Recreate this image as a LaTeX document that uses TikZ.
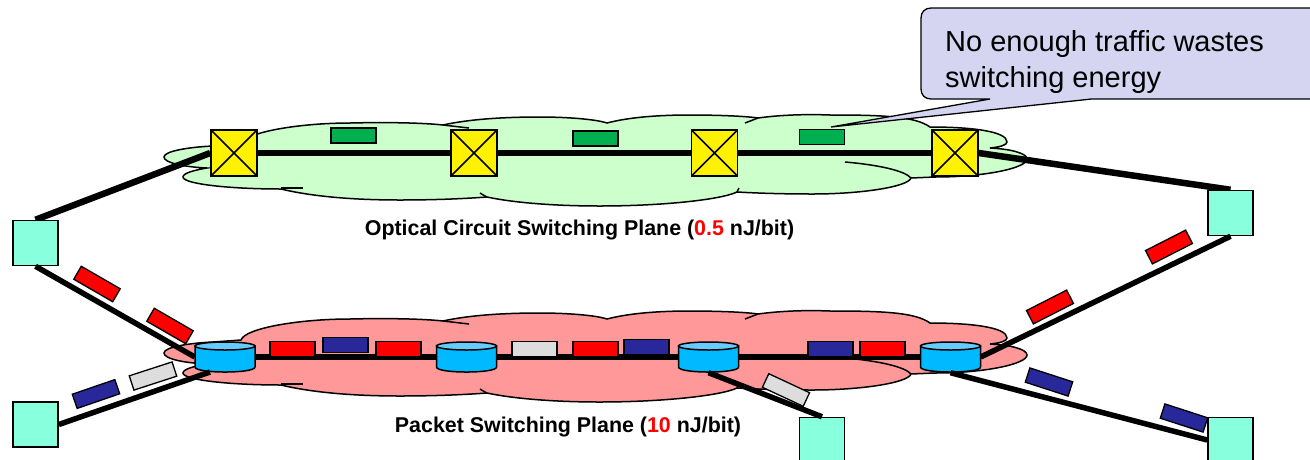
\documentclass[tikz,border=0pt]{standalone}
\usepackage{fontspec}
\setmainfont{Liberation Sans}
\usepackage{xcolor}
\usepackage{tikz}
\usetikzlibrary{backgrounds}
\definecolor{edgeteal}{HTML}{88FFDD}
\definecolor{cloudgreen}{HTML}{CCFFCC}
\definecolor{cloudpink}{HTML}{FF9999}
\definecolor{pktgreen}{HTML}{00B050}
\definecolor{pktblue}{HTML}{28289A}
\definecolor{pktgrey}{HTML}{DDDDDD}
\definecolor{cylbody}{HTML}{00B9FF}
\definecolor{cyltop}{HTML}{66CCFF}
\definecolor{noteblue}{HTML}{D5D5F2}
\newcommand{\planecloud}[2]{
        \begin{scope}[yshift=#1]
        \filldraw [line width=1.5pt,fill=#2] (164,157) .. controls (164,151) and (190,147) .. (213,146)
        -- (241,144) .. controls (245,132) and (300,123) .. (350,123) .. controls (390,122) and (425,123) .. (443,125)
        .. controls (470,119) and (505,117) .. (540,117) .. controls (565,117) and (595,119) .. (607,123)
        .. controls (630,117) and (660,115) .. (690,115) .. controls (715,115) and (745,116) .. (758,118)
        .. controls (780,115) and (805,114) .. (830,115) .. controls (880,115) and (915,116) .. (930,127)
        .. controls (970,127) and (1007,131) .. (1007,142) .. controls (1007,145) and (1000,147) .. (990,148)
        .. controls (1010,149) and (1027,153) .. (1027,159) .. controls (1027,168) and (985,177) .. (935,177)
        -- (911,178) .. controls (908,187) and (860,194) .. (813,194) .. controls (780,194) and (755,193) .. (737,192)
        .. controls (720,200) and (660,206) .. (600,206) .. controls (550,206) and (510,202) .. (487,197)
        .. controls (460,199) and (430,200) .. (400,200) .. controls (350,200) and (310,196) .. (281,189)
        .. controls (230,189) and (183,184) .. (183,177) .. controls (183,173) and (195,170) .. (207,168)
        .. controls (185,167) and (164,163) .. (164,157) -- cycle;
        \draw [line width=1.5pt] (281,188) -- (303,188);
        \draw [line width=1.5pt] (480,193) .. controls (483,195) and (485,196) .. (487,197);
        \draw [line width=1.5pt] (845,162) .. controls (880,165) and (905,171) .. (911,178);
        \draw [line width=1.5pt] (737,192) -- (739,188);
        \draw [line width=1.5pt] (443,125) -- (469,128);
        \draw [line width=1.5pt] (745,123) -- (758,118);
        \end{scope}
}
\newcommand{\routerdrum}[3]{
        \node [drumcore] (#1) at (#2,#3) {};
        \begin{scope}[shift={(#2,#3)}]
        \filldraw [line width=1.5pt,fill=cylbody] (-30,-11) -- (-30,10) .. controls (-30,16.7) and (30,16.7) .. (30,10) -- (30,-11) -- cycle;
        \filldraw [line width=1.5pt,fill=cyltop] (0,-11) ellipse [x radius=30pt,y radius=4pt];
        \end{scope}
}
\begin{document}
\begin{tikzpicture}[x=1pt,y=-1pt]
        \tikzstyle{every node}+=[inner sep=0pt]
        \tikzstyle{edgebox}=[draw,line width=1.5pt,fill=edgeteal,minimum size=45pt]
        \tikzstyle{ocsbox}=[draw,line width=1.5pt,fill=yellow,minimum size=46pt,
                path picture={\draw [line width=1.5pt] (path picture bounding box.north west) -- (path picture bounding box.south east)
                (path picture bounding box.north east) -- (path picture bounding box.south west);}]
        \tikzstyle{drumcore}=[minimum width=60pt,minimum height=31pt]
        \tikzstyle{pktbox}=[draw,line width=1.3pt,minimum width=45pt,minimum height=15pt]
        \tikzstyle{fatlink}=[line width=5.5pt]
        \tikzstyle{planelabel}=[font=\fontsize{21.4pt}{25pt}\selectfont\bfseries]
        \useasboundingbox (0,0) rectangle (1310,459);
        \node [edgebox] (edgeTL) at (35.5,243) {};
        \node [edgebox] (edgeBL) at (35.5,424.5) {};
        \node [edgebox] (edgeTR) at (1230.5,213) {};
        \node [edgebox] (edgeBM) at (822,440) {};
        \node [edgebox] (edgeBR) at (1230.5,440) {};
        \node [ocsbox] (ocsA) at (234,153) {};
        \node [ocsbox] (ocsB) at (474,153) {};
        \node [ocsbox] (ocsC) at (714.5,153) {};
        \node [ocsbox] (ocsD) at (955,153) {};
        \routerdrum{cylA}{225}{357}
        \routerdrum{cylB}{466.5}{357}
        \routerdrum{cylC}{708.5}{357}
        \routerdrum{cylD}{950.5}{357}
        \coordinate (cylAfoot) at (210,372);
        \begin{scope}[on background layer]
        \planecloud{0pt}{cloudgreen}
        \planecloud{-196pt}{cloudpink}
        \draw [fatlink,line width=6.5pt] (ocsA.center) -- (ocsD.center);
        \draw [fatlink] (cylA.center) -- (cylD.center);
        \draw [fatlink,line width=6.5pt] (edgeTL.north) -- (ocsA.west);
        \draw [fatlink,line width=6.5pt] (ocsD.east) -- (edgeTR.north);
        \end{scope}
        \draw [fatlink] (edgeTL.south) -- (cylA.west);
        \draw [fatlink] (edgeBL.east) -- (cylAfoot);
        \draw [fatlink] (cylC.south) -- (edgeBM.north);
        \draw [fatlink] (cylD.east) -- (edgeTR.south);
        \draw [fatlink] (cylD.south) -- (edgeBR.west);
        \node [pktbox,fill=pktgreen] (pktG1) at (353.5,135.5) {};
        \node [pktbox,fill=pktgreen] (pktG2) at (595.5,138.5) {};
        \node [pktbox,fill=pktgreen] (pktG3) at (822,137) {};
        \node [pktbox,fill=red] (pktR1) at (292.5,349) {};
        \node [pktbox,fill=pktblue] (pktB1) at (345.5,345) {};
        \node [pktbox,fill=red] (pktR2) at (398.5,349) {};
        \node [pktbox,fill=pktgrey] (pktW1) at (534.5,349) {};
        \node [pktbox,fill=red] (pktR3) at (595.5,349) {};
        \node [pktbox,fill=pktblue] (pktB2) at (646.5,347) {};
        \node [pktbox,fill=pktblue] (pktB3) at (830.5,349) {};
        \node [pktbox,fill=red] (pktR4) at (882.5,349) {};
        \node [pktbox,fill=red,rotate=-30] (pktR5) at (97,284) {};
        \node [pktbox,fill=red,rotate=-30] (pktR6) at (170,326) {};
        \node [pktbox,fill=pktblue,rotate=19] (pktB4) at (96,394) {};
        \node [pktbox,fill=pktgrey,rotate=18] (pktW2) at (153,376) {};
        \node [pktbox,fill=pktgrey,rotate=-25] (pktW3) at (786,390) {};
        \node [pktbox,fill=red,rotate=27] (pktR7) at (1050,307) {};
        \node [pktbox,fill=red,rotate=27] (pktR8) at (1169,247) {};
        \node [pktbox,fill=pktblue,rotate=-18] (pktB5) at (1049,382) {};
        \node [pktbox,fill=pktblue,rotate=-18] (pktB6) at (1184,418) {};
        \filldraw [line width=1.3pt,fill=noteblue] (1320,99) -- (1091.5,99) -- (831,127) -- (990,99) -- (931,99)
        .. controls (925,99) and (921,95) .. (921,89) -- (921,18) .. controls (921,12) and (925,8) .. (931,8) -- (1320,8);
        \node [anchor=west,align=left,font=\fontsize{29pt}{36pt}\selectfont] (noteText) at (945,62) {No enough traffic wastes\\switching energy};
        \node [planelabel] (ocsLabel) at (579.5,230) {Optical Circuit Switching Plane ({\color{red}0.5} nJ/bit)};
        \node [planelabel] (pktLabel) at (568,427) {Packet Switching Plane ({\color{red}10} nJ/bit)};
\end{tikzpicture}
\end{document}
